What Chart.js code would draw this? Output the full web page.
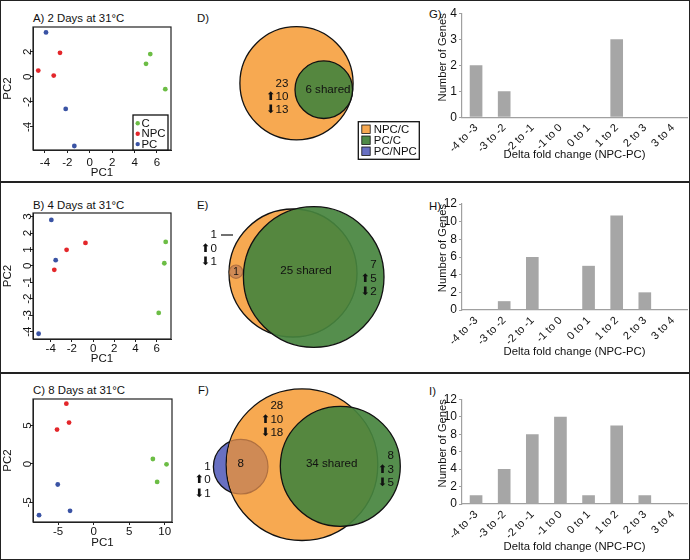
<!DOCTYPE html>
<html>
<head>
<meta charset="utf-8">
<script src="https://cdn.jsdelivr.net/npm/chart.js@4"></script>
<style>
  body { margin: 0; background: #fff; font-family: "Liberation Sans", Arial, sans-serif; }
  #fig { position: relative; width: 690px; height: 560px; overflow: hidden; background: #fff; }
  #fig canvas { position: absolute; }
  .frame { position: absolute; left: 0; top: 0; width: 690px; height: 560px; border: 1.5px solid #222; box-sizing: border-box; }
  .rule { position: absolute; left: 0; width: 690px; height: 2px; background: #222; }
  .lbl { position: absolute; font-size: 11.4px; line-height: 1; color: #111; white-space: nowrap; }
</style>
</head>
<body>
<div id="fig">
  <div class="frame"></div>
  <div class="rule" style="top:181px"></div>
  <div class="rule" style="top:372px"></div>
  <div class="lbl" style="left:33px;top:13px">A) 2 Days at 31°C</div>
  <div class="lbl" style="left:33px;top:200px">B) 4 Days at 31°C</div>
  <div class="lbl" style="left:33px;top:385px">C) 8 Days at 31°C</div>
  <div class="lbl" style="left:197px;top:13px">D)</div>
  <div class="lbl" style="left:197px;top:200px">E)</div>
  <div class="lbl" style="left:198px;top:385px">F)</div>
  <div class="lbl" style="left:429px;top:9px">G)</div>
  <div class="lbl" style="left:429px;top:201px">H)</div>
  <div class="lbl" style="left:429px;top:386px">I)</div>
</div>
<script>
// ---- data ----
const seriesNames = ['C', 'NPC', 'PC'];
const pcaColors = ['#6cbd45', '#e3262a', '#3a53a4'];

// PCA scores [PC1, PC2]
const day2_C   = [[5.4, 1.82], [5.02, 1.04], [6.74, -0.98]];
const day2_NPC = [[-2.66, 1.92], [-4.6, 0.5], [-3.22, 0.1]];
const day2_PC  = [[-3.91, 3.55], [-2.15, -2.56], [-1.38, -5.52]];

const day4_C   = [[6.85, 1.46], [6.72, 0.16], [6.19, -2.86]];
const day4_NPC = [[-0.72, 1.4], [-2.5, 0.98], [-3.66, -0.24]];
const day4_PC  = [[-3.94, 2.8], [-3.53, 0.35], [-5.14, -4.13]];

const day8_C   = [[8.34, 0.65], [10.26, -0.05], [8.94, -2.34]];
const day8_NPC = [[-3.83, 7.86], [-3.45, 5.4], [-5.14, 4.49]];
const day8_PC  = [[-5.04, -2.67], [-3.31, -6.1], [-7.67, -6.67]];

// Venn counts (index 0 = 2 days, 1 = 4 days, 2 = 8 days)
const vennSets = ['NPC/C', 'PC/C', 'PC/NPC'];
const npcOnly = [23, null, 28], npcOnlyUp = [10, null, 10], npcOnlyDown = [13, null, 18];
const sharedCount = [6, 25, 34];
const pcOnly = [null, 7, 8], pcOnlyUp = [null, 5, 3], pcOnlyDown = [null, 2, 5];
const pcNpcIn = [null, 1, 8];
const pcNpcOut = [null, 1, 1], pcNpcOutUp = [null, 0, 0], pcNpcOutDown = [null, 1, 1];

// Histogram of delta fold change
const foldBins = ['-4 to -3', '-3 to -2', '-2 to -1', '-1 to 0', '0 to 1', '1 to 2', '2 to 3', '3 to 4'];
const genesG = [2, 1, 0, 0, 0, 3, 0, 0];
const genesH = [0, 1, 6, 0, 5, 10.7, 2, 0];
const genesI = [1, 4, 8, 10, 1, 9, 1, 0];

// ---- styles ----
Chart.defaults.font.family = "'Liberation Sans', Arial, sans-serif";
Chart.defaults.color = '#111';
Chart.defaults.animation = false;
Chart.defaults.events = [];
Chart.defaults.plugins.legend.display = false;
Chart.defaults.plugins.tooltip.enabled = false;

const vennOrange = '#f7a951';
const vennGreen = 'rgba(70,132,62,0.92)';
const vennBlue = '#6870c2';
const vennBrown = '#cf8a55';
const barGrey = '#a6a6a6';

const fig = document.getElementById('fig');
function makeCanvas(l, t, w, h) {
  const cv = document.createElement('canvas');
  cv.width = w; cv.height = h;
  cv.style.left = l + 'px'; cv.style.top = t + 'px';
  cv.style.width = w + 'px'; cv.style.height = h + 'px';
  fig.appendChild(cv);
  return cv;
}

const framePlugin = {
  id: 'frame',
  afterDraw(chart) {
    const {ctx, chartArea: a} = chart;
    ctx.save();
    ctx.strokeStyle = '#222';
    ctx.lineWidth = 1.2;
    ctx.strokeRect(a.left, a.top, a.right - a.left, a.bottom - a.top);
    ctx.restore();
  }
};

const insetLegend = {
  id: 'insetLegend',
  afterDraw(chart) {
    const {ctx, chartArea: a} = chart;
    const w = 35, h = 35, x0 = a.right - 3 - w, y0 = a.bottom - h;
    ctx.save();
    ctx.fillStyle = '#fff';
    ctx.fillRect(x0, y0, w, h);
    ctx.strokeStyle = '#111';
    ctx.lineWidth = 1.3;
    ctx.strokeRect(x0, y0, w, h);
    ctx.font = "11.4px 'Liberation Sans'";
    ctx.textBaseline = 'middle';
    chart.data.datasets.forEach((d, i) => {
      const y = y0 + 8.3 + i * 10.4;
      ctx.fillStyle = d.backgroundColor;
      ctx.beginPath(); ctx.arc(x0 + 4.7, y, 2.2, 0, Math.PI * 2); ctx.fill();
      ctx.fillStyle = '#111';
      ctx.fillText(d.label, x0 + 8.5, y + 0.5);
    });
    ctx.restore();
  }
};

function scatter(rect, area, xr, yr, xStep, yStep, sets, legend, xh, tickPad) {
  const cv = makeCanvas(...rect);
  return new Chart(cv, {
    type: 'scatter',
    data: {
      datasets: sets.map((d, i) => ({
        label: seriesNames[i],
        data: d.map(p => ({x: p[0], y: p[1]})),
        backgroundColor: pcaColors[i],
        borderWidth: 0,
        pointRadius: 2.4
      }))
    },
    options: {
      responsive: false,
      layout: {autoPadding: false, padding: {left: 0, top: area[1] - rect[1], right: rect[0] + rect[2] - area[2], bottom: rect[1] + rect[3] - area[3] - xh}},
      scales: {
        x: {
          type: 'linear', min: xr[0], max: xr[1],
          afterFit: s => { s.height = xh; },
          ticks: {stepSize: xStep, includeBounds: false, padding: tickPad, maxRotation: 0, font: {size: 11.5}},
          grid: {drawOnChartArea: false, tickLength: 3, color: '#222'},
          border: {color: '#222'},
          title: {display: true, text: 'PC1', font: {size: 11.5}, padding: 0}
        },
        y: {
          min: yr[0], max: yr[1],
          afterFit: s => { s.width = area[0] - rect[0]; },
          ticks: {stepSize: yStep, includeBounds: false, minRotation: 90, maxRotation: 90, crossAlign: 'center', padding: -2.5, font: {size: 11.5}},
          grid: {drawOnChartArea: false, tickLength: 3, color: '#222'},
          border: {color: '#222'},
          title: {display: true, text: 'PC2', font: {size: 11.5}, padding: 0}
        }
      }
    },
    plugins: legend ? [framePlugin, insetLegend] : [framePlugin]
  });
}

scatter([1, 2, 196, 180], [33, 27, 171, 150], [-5.07, 7.25], [-5.84, 3.98], 2, 2, [day2_C, day2_NPC, day2_PC], true, 30, 3);
scatter([1, 184, 196, 188], [33, 213, 171, 339], [-5.67, 7.35], [-4.45, 3.22], 2, 1, [day4_C, day4_NPC, day4_PC], false, 27, 0);
scatter([1, 375, 196, 184], [33, 399, 172, 522], [-8.52, 11.03], [-7.56, 8.47], 5, 5, [day8_C, day8_NPC, day8_PC], false, 28, 0);

// ---- Venn diagrams (bubbles on a pixel-sized linear space) ----
const vennClip = {
  id: 'vennClip',
  beforeDatasetDraw(chart, args) {
    const ds = chart.data.datasets[args.index];
    if (ds.clipTo == null) return;
    const el = chart.getDatasetMeta(ds.clipTo).data[0];
    const ctx = chart.ctx;
    ctx.save();
    if (el) { ctx.beginPath(); ctx.arc(el.x, el.y, el.options.radius - 0.6, 0, Math.PI * 2); ctx.clip(); }
  },
  afterDatasetDraw(chart, args) {
    if (chart.data.datasets[args.index].clipTo == null) return;
    chart.ctx.restore();
  }
};

const vennText = {
  id: 'vennText',
  afterDraw(chart, args, opts) {
    const {ctx, scales: {x, y}} = chart;
    ctx.save();
    ctx.textBaseline = 'middle';
    ctx.fillStyle = '#111';
    ctx.strokeStyle = '#111';
    (opts.items || []).forEach(it => {
      if (it.line) {
        ctx.lineWidth = 1.2;
        ctx.beginPath();
        ctx.moveTo(x.getPixelForValue(it.line[0]), y.getPixelForValue(it.line[1]));
        ctx.lineTo(x.getPixelForValue(it.line[2]), y.getPixelForValue(it.line[3]));
        ctx.stroke();
        return;
      }
      ctx.font = (it.size || 11.6) + "px 'Liberation Sans', 'DejaVu Sans', sans-serif";
      ctx.textAlign = it.align || 'center';
      ctx.fillText(it.t, x.getPixelForValue(it.x), y.getPixelForValue(it.y));
    });
    if (opts.legend) {
      const [x0, y0, w, h] = opts.legend;
      const px = x.getPixelForValue(x0), py = y.getPixelForValue(y0);
      ctx.fillStyle = '#fff';
      ctx.fillRect(px, py, w, h);
      ctx.lineWidth = 1.3;
      ctx.strokeRect(px, py, w, h);
      ctx.font = "11.4px 'Liberation Sans'";
      ctx.textAlign = 'left';
      [vennOrange, '#4f8a47', vennBlue].forEach((c, i) => {
        const ry = py + 7.5 + i * 11;
        ctx.fillStyle = c;
        ctx.fillRect(px + 3.5, ry - 4.2, 8.4, 8.4);
        ctx.lineWidth = 0.8;
        ctx.strokeRect(px + 3.5, ry - 4.2, 8.4, 8.4);
        ctx.fillStyle = '#111';
        ctx.fillText(vennSets[i], px + 15.5, ry + 0.5);
      });
    }
    ctx.restore();
  }
};

function circle(c) { return c ? [{x: c[0], y: c[1], r: c[2]}] : []; }

// canvas starts 12px left of the panel origin so labels at the left edge fit
const vennPadLeft = 12;
function venn(rect, lay, items, legend) {
  const cv = makeCanvas(rect[0] - vennPadLeft, rect[1], rect[2] + vennPadLeft, rect[3]);
  return new Chart(cv, {
    type: 'bubble',
    data: {
      datasets: [
        {label: vennSets[1], data: circle(lay.pc), backgroundColor: vennGreen, borderColor: '#111', borderWidth: 1.3, order: 0, clip: false},
        {label: 'overlap', data: circle(lay.pn), backgroundColor: vennBrown, borderColor: '#b07040', borderWidth: 1.2, order: 1, clipTo: 2, clip: false},
        {label: vennSets[0], data: circle(lay.npc), backgroundColor: vennOrange, borderColor: '#111', borderWidth: 1.3, order: 2, clip: false},
        {label: vennSets[2], data: circle(lay.pn), backgroundColor: vennBlue, borderColor: '#111', borderWidth: 1.3, order: 3, clip: false}
      ]
    },
    options: {
      responsive: false,
      layout: {autoPadding: false, padding: 0},
      scales: {
        x: {type: 'linear', display: false, min: -vennPadLeft, max: rect[2]},
        y: {type: 'linear', display: false, min: 0, max: rect[3], reverse: true}
      },
      plugins: {vennText: {items, legend}}
    },
    plugins: [vennClip, vennText]
  });
}

function stack(n, up, down, xr, y, dy) {
  return [
    {t: String(n), x: xr, y: y, align: 'right'},
    {t: '\u2B06' + up, x: xr, y: y + dy, align: 'right'},
    {t: '\u2B07' + down, x: xr, y: y + 2 * dy, align: 'right'}
  ];
}

// layout of each diagram: circle centre and radius in panel pixels
venn([200, 2, 228, 179],
  {npc: [96.5, 81.3, 56.6], pc: [123.8, 87.7, 28.8], pn: null},
  [...stack(npcOnly[0], npcOnlyUp[0], npcOnlyDown[0], 88.5, 81.3, 13.4),
   {t: sharedCount[0] + ' shared', x: 128, y: 88}],
  [158.3, 119.7, 61, 37.6]);

venn([200, 184, 228, 187],
  {npc: [93, 89, 64], pc: [113.7, 93, 70.3], pn: [36, 87.7, 6.7]},
  [...stack(pcNpcOut[1], pcNpcOutUp[1], pcNpcOutDown[1], 17, 51, 13.3),
   {line: [21, 51, 33, 51]},
   {t: String(pcNpcIn[1]), x: 36, y: 88, size: 10},
   {t: sharedCount[1] + ' shared', x: 106, y: 86.7},
   ...stack(pcOnly[1], pcOnlyUp[1], pcOnlyDown[1], 176.7, 81, 13.6)],
  null);

venn([200, 375, 228, 183],
  {npc: [102, 89.7, 75.8], pc: [140.3, 91.3, 60], pn: [40.7, 91.7, 27.3]},
  [...stack(npcOnly[2], npcOnlyUp[2], npcOnlyDown[2], 83.3, 31, 13.4),
   {t: String(pcNpcIn[2]), x: 40.7, y: 88.5},
   {t: sharedCount[2] + ' shared', x: 131.7, y: 89},
   ...stack(pcOnly[2], pcOnlyUp[2], pcOnlyDown[2], 194, 81, 13.4),
   ...stack(pcNpcOut[2], pcNpcOutUp[2], pcNpcOutDown[2], 10.7, 91.7, 13.3)],
  null);

// ---- histograms ----
// y-axis title sits a bit above the middle of the axis, as in the figure
const genesTitle = {
  id: 'genesTitle',
  afterDraw(chart) {
    const {ctx, chartArea: a} = chart;
    ctx.save();
    ctx.translate(13.3, a.top + 44);
    ctx.rotate(-Math.PI / 2);
    ctx.font = "11.2px 'Liberation Sans'";
    ctx.fillStyle = '#111';
    ctx.textAlign = 'center';
    ctx.textBaseline = 'middle';
    ctx.fillText('Number of Genes', 0, 0);
    ctx.restore();
  }
};

function bars(rect, area, values, yMax, yStep) {
  const cv = makeCanvas(...rect);
  const xh = rect[1] + rect[3] - area[3];
  return new Chart(cv, {
    type: 'bar',
    data: {
      labels: foldBins,
      datasets: [{data: values, backgroundColor: barGrey, barPercentage: 0.45, categoryPercentage: 1}]
    },
    options: {
      responsive: false,
      layout: {padding: {left: 0, top: area[1] - rect[1], right: rect[0] + rect[2] - area[2], bottom: 0}},
      scales: {
        x: {
          afterFit: s => { s.height = xh; },
          grid: {display: false, drawTicks: false},
          border: {color: '#a0a0a0', width: 1.2},
          ticks: {minRotation: 45, maxRotation: 45, padding: 4, font: {size: 11}},
          title: {display: true, text: 'Delta fold change (NPC-PC)', font: {size: 11.3}, padding: {top: 0, bottom: 2}}
        },
        y: {
          min: 0, max: yMax,
          afterFit: s => { s.width = area[0] - rect[0]; },
          ticks: {stepSize: yStep, padding: 2, font: {size: 12}},
          grid: {drawOnChartArea: false, tickLength: 3, color: '#a0a0a0'},
          border: {color: '#a0a0a0', width: 1.2}
        }
      }
    },
    plugins: [genesTitle]
  });
}

bars([430, 2, 258, 162], [462, 13.3, 687, 117.3], genesG, 4, 1);
bars([430, 184, 258, 177], [462, 204, 687, 310], genesH, 12, 2);
bars([430, 375, 258, 181], [462, 399.3, 687, 504], genesI, 12, 2);
</script>
</body>
</html>
